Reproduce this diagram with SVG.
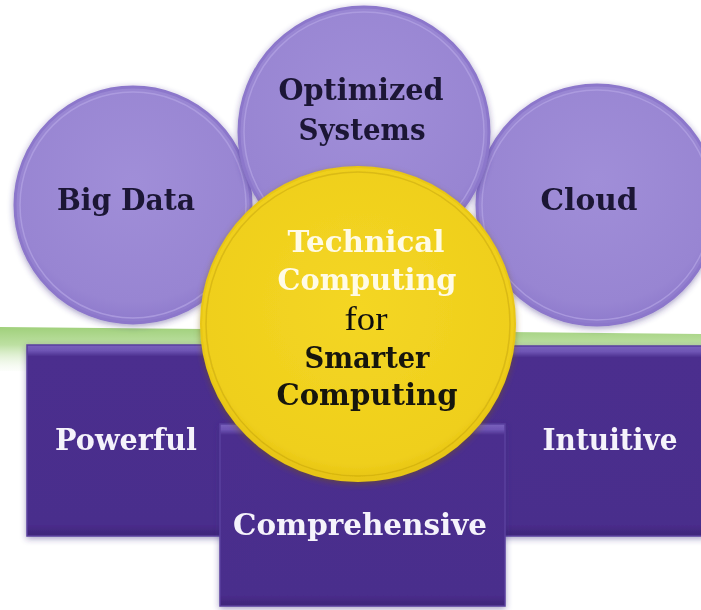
<svg xmlns="http://www.w3.org/2000/svg" width="701" height="610" viewBox="0 0 701 610">
<defs>
<linearGradient id="gBand" x1="0" y1="0" x2="0" y2="1">
<stop offset="0" stop-color="#a0d07b"/>
<stop offset="0.35" stop-color="#bde0a2"/>
<stop offset="1" stop-color="#ffffff" stop-opacity="0"/>
</linearGradient>
<radialGradient id="gPurple" cx="0.5" cy="0.4" r="0.6">
<stop offset="0" stop-color="#a08ed8"/>
<stop offset="0.85" stop-color="#9885d2"/>
<stop offset="1" stop-color="#8e7acc"/>
</radialGradient>
<radialGradient id="gYellow" cx="0.5" cy="0.45" r="0.55">
<stop offset="0" stop-color="#f4d624"/>
<stop offset="0.9" stop-color="#efcf1c"/>
<stop offset="1" stop-color="#e6c312"/>
</radialGradient>
<linearGradient id="gBox" x1="0" y1="0" x2="0" y2="1">
<stop offset="0" stop-color="#7a62bd"/>
<stop offset="0.03" stop-color="#6e55b4"/>
<stop offset="0.06" stop-color="#4b2e8e"/>
<stop offset="0.94" stop-color="#4a2d8c"/>
<stop offset="1" stop-color="#3e2478"/>
</linearGradient>
<filter id="shadow" x="-10%" y="-10%" width="120%" height="120%">
<feGaussianBlur in="SourceAlpha" stdDeviation="3"/>
<feOffset dx="0" dy="2" result="b"/>
<feFlood flood-color="#3a2a80" flood-opacity="0.45"/>
<feComposite in2="b" operator="in"/>
<feMerge><feMergeNode/><feMergeNode in="SourceGraphic"/></feMerge>
</filter>
<filter id="yshadow" x="-10%" y="-10%" width="120%" height="120%">
<feGaussianBlur in="SourceAlpha" stdDeviation="3"/>
<feOffset dx="0" dy="2" result="b"/>
<feFlood flood-color="#7a5a10" flood-opacity="0.5"/>
<feComposite in2="b" operator="in"/>
<feMerge><feMergeNode/><feMergeNode in="SourceGraphic"/></feMerge>
</filter>
</defs>
<style>
.pc{fill:url(#gPurple);stroke:#8c77cb;stroke-width:3}
.hl{fill:none;stroke:#b3a4e4;stroke-width:1.5;opacity:0.7}
.box{fill:url(#gBox);stroke:#5a3f9e;stroke-width:1.5}
.ct{font-family:"DejaVu Serif",serif;font-weight:bold;font-size:29px;fill:#1b1736;text-anchor:middle}
.bt{font-family:"DejaVu Serif",serif;font-weight:bold;font-size:29px;fill:#f5f3fb;text-anchor:middle}
.wt{font-family:"DejaVu Serif",serif;font-weight:bold;font-size:29px;fill:#fffbe6;text-anchor:middle}
.kt{font-family:"DejaVu Serif",serif;font-weight:bold;font-size:29px;fill:#161410;text-anchor:middle}
.ft{font-family:"Liberation Serif",serif;font-size:34px;fill:#111;text-anchor:middle}
</style>
<rect width="701" height="610" fill="#ffffff"/>
<polygon points="0,327 701,334 701,378 0,371" fill="url(#gBand)"/>
<g id="connectors"/>
<g id="big-data" filter="url(#shadow)">
<circle class="pc" cx="133" cy="205" r="118"/>
<circle class="hl" cx="133" cy="205" r="113"/>
<text class="ct" x="126" y="210" textLength="138" lengthAdjust="spacingAndGlyphs">Big Data</text>
</g>
<g id="cloud" filter="url(#shadow)">
<circle class="pc" cx="597" cy="205" r="120"/>
<circle class="hl" cx="597" cy="205" r="115"/>
<text class="ct" x="589" y="210" textLength="97" lengthAdjust="spacingAndGlyphs">Cloud</text>
</g>
<g id="optimized-systems" filter="url(#shadow)">
<circle class="pc" cx="364" cy="132" r="125"/>
<circle class="hl" cx="364" cy="132" r="120"/>
<text class="ct" x="361" y="100" textLength="165" lengthAdjust="spacingAndGlyphs">Optimized</text>
<text class="ct" x="362" y="140" textLength="127" lengthAdjust="spacingAndGlyphs">Systems</text>
</g>
<g id="powerful" filter="url(#shadow)">
<rect class="box" x="27" y="345" width="215" height="191"/>
<text class="bt" x="126" y="450" textLength="142" lengthAdjust="spacingAndGlyphs">Powerful</text>
</g>
<g id="intuitive" filter="url(#shadow)">
<rect class="box" x="480" y="346" width="225" height="190"/>
<text class="bt" x="610" y="450" textLength="135" lengthAdjust="spacingAndGlyphs">Intuitive</text>
</g>
<g id="comprehensive" filter="url(#shadow)">
<rect class="box" x="220" y="424" width="285" height="182"/>
<text class="bt" x="360" y="535" textLength="254" lengthAdjust="spacingAndGlyphs">Comprehensive</text>
</g>
<g id="technical-computing" filter="url(#yshadow)">
<circle cx="358" cy="324" r="157" fill="url(#gYellow)" stroke="#e8c614" stroke-width="2"/>
<circle cx="358" cy="324" r="152" fill="none" stroke="#c9a80c" stroke-width="1.5" opacity="0.55"/>
<text class="wt" x="366" y="252" textLength="157" lengthAdjust="spacingAndGlyphs">Technical</text>
<text class="wt" x="367" y="290" textLength="179" lengthAdjust="spacingAndGlyphs">Computing</text>
<text class="ft" x="366" y="330" textLength="43" lengthAdjust="spacingAndGlyphs">for</text>
<text class="kt" x="367" y="368" textLength="125" lengthAdjust="spacingAndGlyphs">Smarter</text>
<text class="kt" x="367" y="405" textLength="181" lengthAdjust="spacingAndGlyphs">Computing</text>
</g>
</svg>
